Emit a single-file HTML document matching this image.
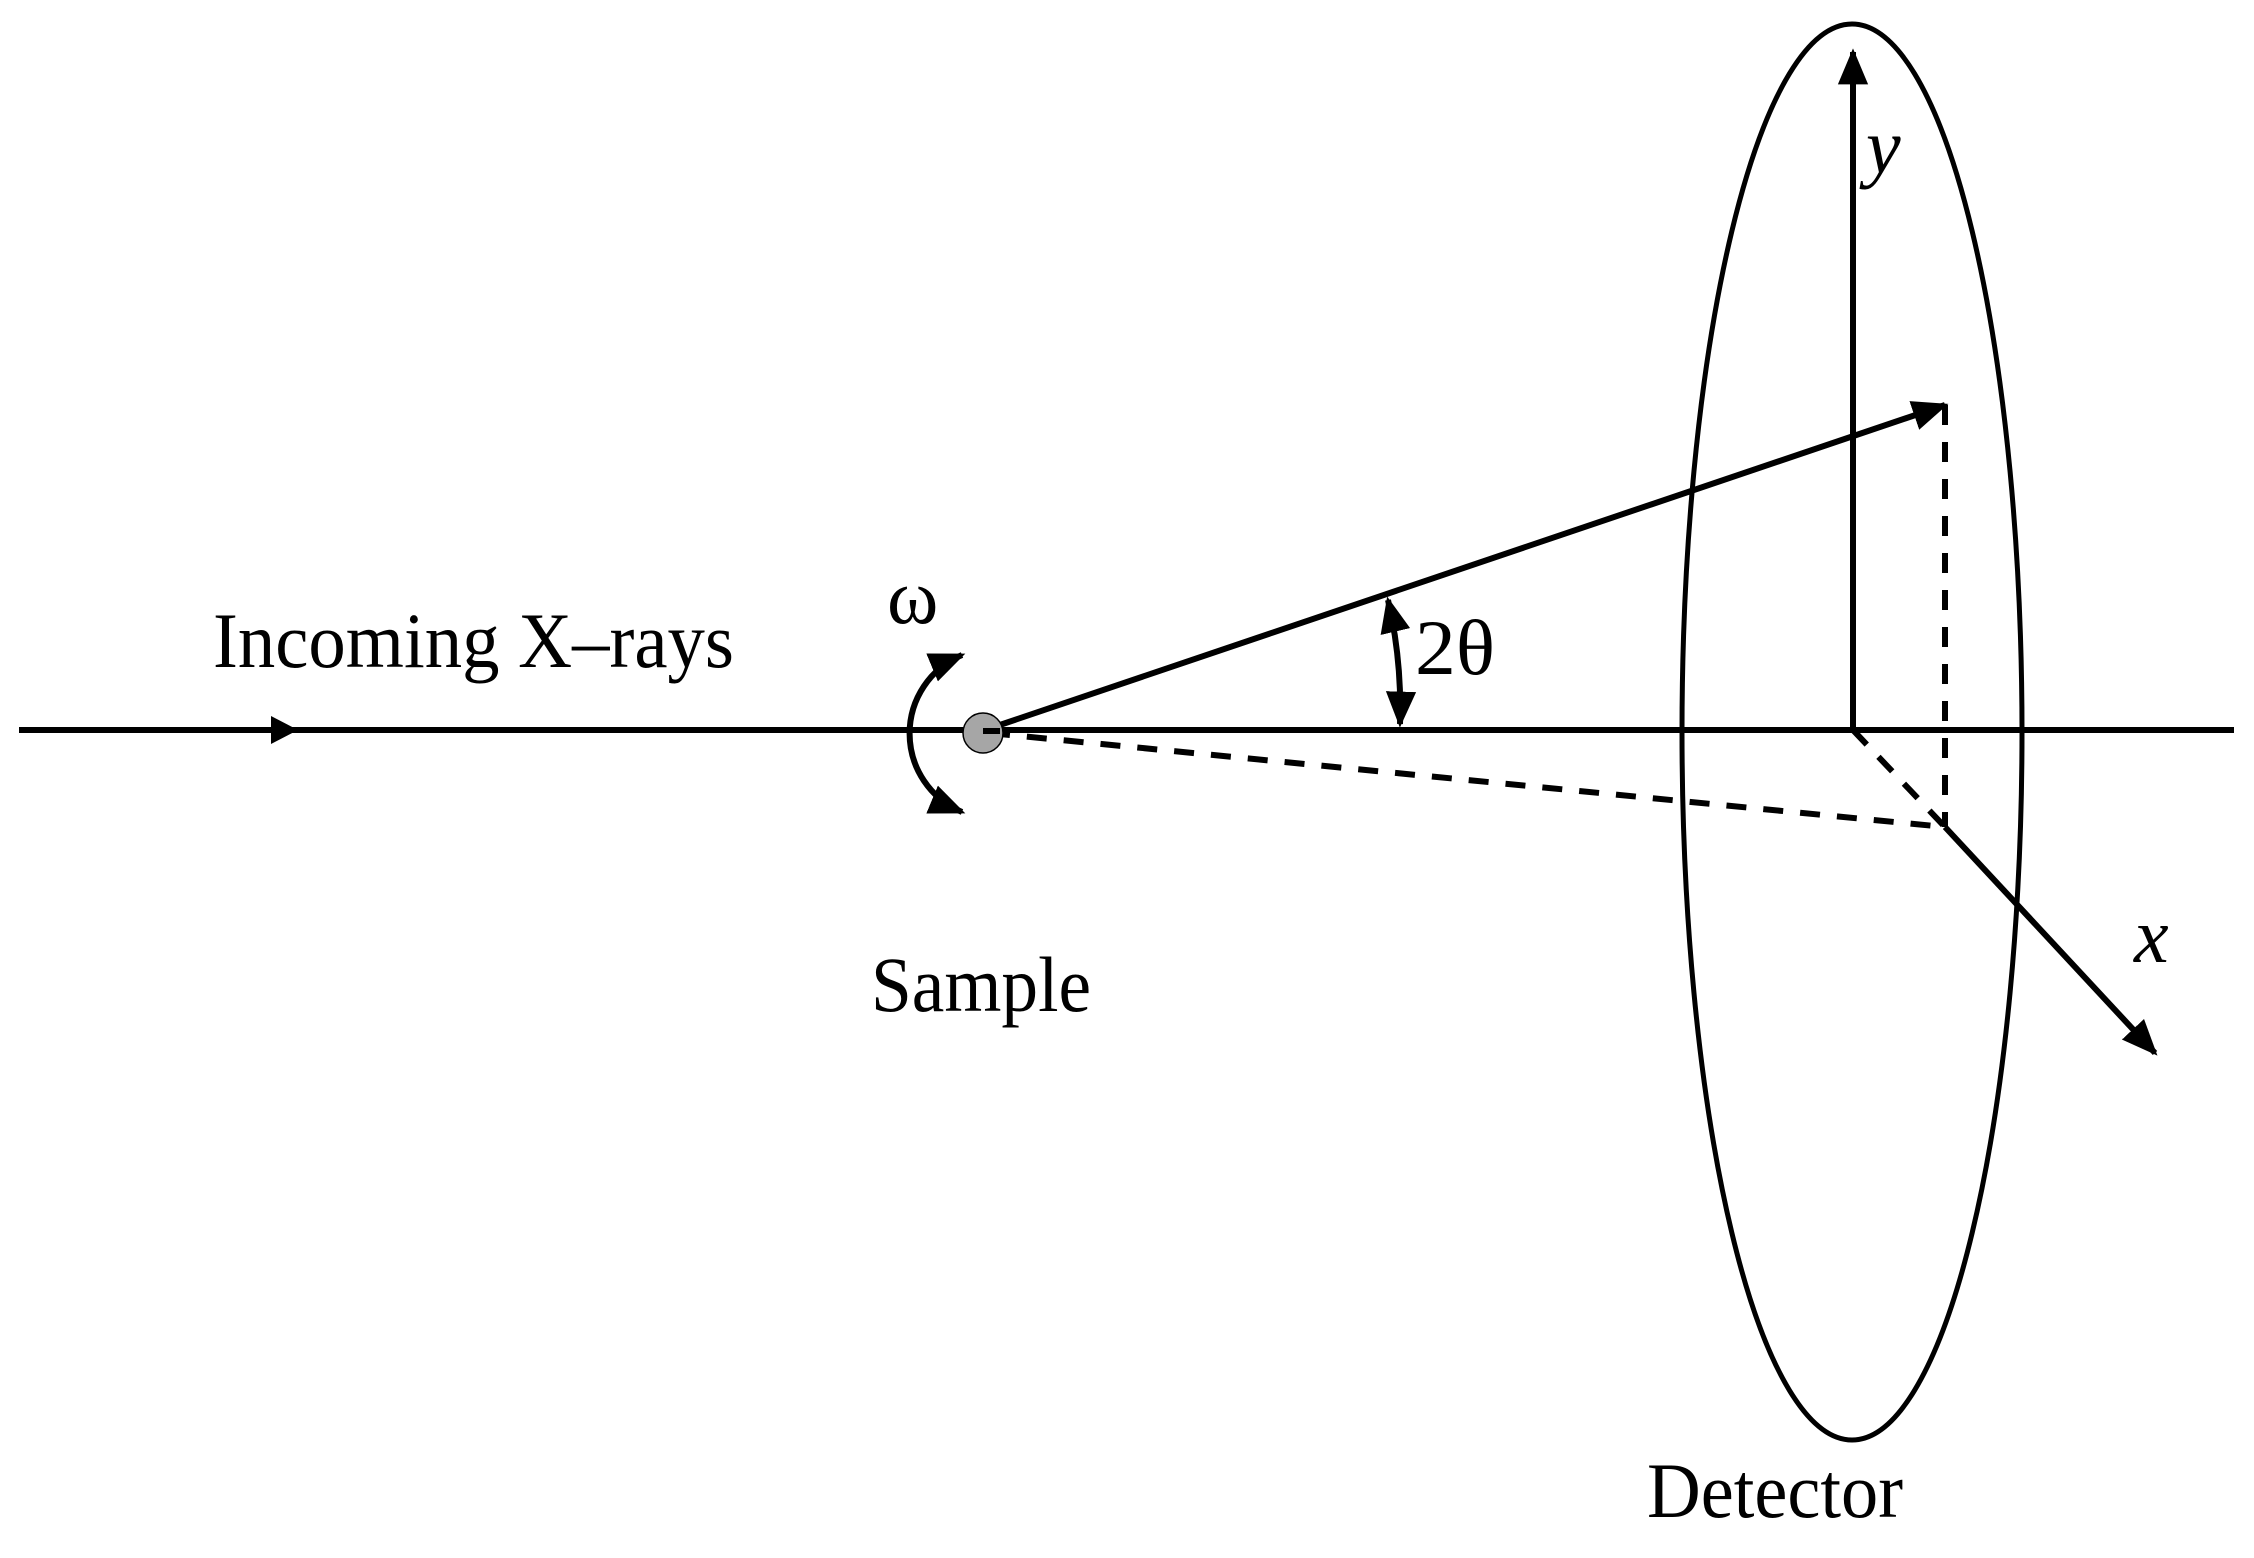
<!DOCTYPE html>
<html><head><meta charset="utf-8"><style>html,body{margin:0;padding:0;background:#fff}svg{display:block}</style></head>
<body>
<svg width="2254" height="1558" viewBox="0 0 2254 1558" xmlns="http://www.w3.org/2000/svg" font-family="Liberation Serif, serif">
<defs>
<marker id="ah" viewBox="0 0 10 10" refX="9" refY="5" markerWidth="6" markerHeight="6" markerUnits="strokeWidth" orient="auto-start-reverse"><path d="M0,0.8 L10,5 L0,9.2 z" fill="#000"/></marker>
</defs>
<g stroke="#000" stroke-width="6" fill="none">
<line x1="19" y1="730" x2="2234" y2="730"/>
<ellipse cx="1852" cy="732" rx="170" ry="708" stroke-width="5"/>
<line x1="1853" y1="730" x2="1853" y2="52" marker-end="url(#ah)"/>
<line x1="982" y1="731" x2="1945" y2="405" marker-end="url(#ah)"/>
<line x1="1945" y1="405" x2="1945" y2="827" stroke-dasharray="20,17"/>
<line x1="990" y1="733" x2="1945" y2="827" stroke-dasharray="20,17"/>
<line x1="1853" y1="730" x2="1945" y2="827" stroke-dasharray="20,17"/>
<line x1="1945" y1="827" x2="2155" y2="1053" marker-end="url(#ah)"/>
<path d="M962,655 A85 85 0 0 0 962,812" marker-start="url(#ah)" marker-end="url(#ah)"/>
<path d="M1388,600 Q1402,660 1400,724" marker-start="url(#ah)" marker-end="url(#ah)"/>
</g>
<path d="M271,716 L298,730 L271,744 z" fill="#000"/>
<circle cx="983" cy="733" r="20" fill="#a6a6a6" stroke="#000" stroke-width="1.5"/>
<line x1="983" y1="731" x2="1000" y2="731" stroke="#000" stroke-width="6"/>
<g fill="#000" font-size="78">
<text x="213" y="667" textLength="521" lengthAdjust="spacingAndGlyphs">Incoming X–rays</text>
<text x="887" y="623">ω</text>
<text x="1415" y="674" textLength="80" lengthAdjust="spacingAndGlyphs">2θ</text>
<text x="871" y="1011" textLength="220" lengthAdjust="spacingAndGlyphs">Sample</text>
<text x="1647" y="1517" textLength="256" lengthAdjust="spacingAndGlyphs">Detector</text>
<text x="1866" y="173" font-style="italic">y</text>
<text x="2134" y="962" font-style="italic">x</text>
</g>
</svg>
</body></html>
